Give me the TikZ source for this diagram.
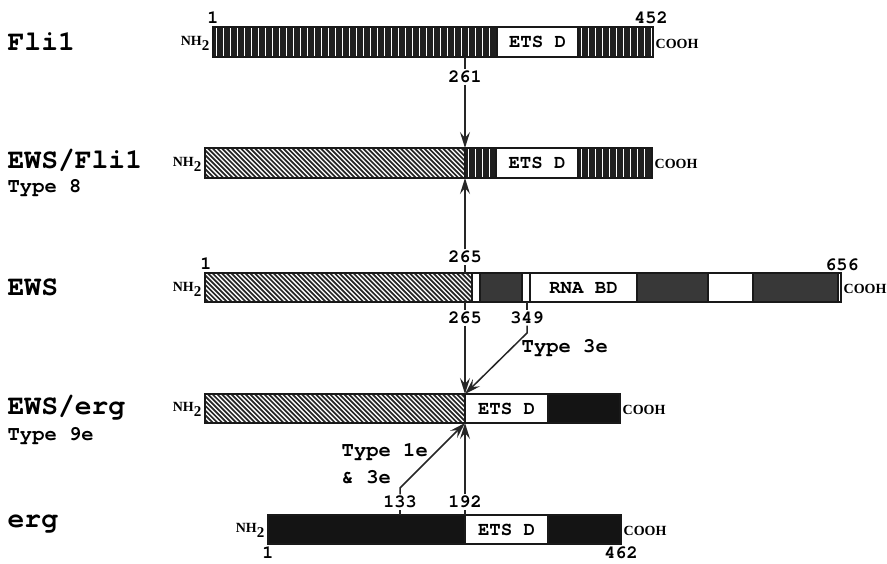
\documentclass[tikz,border=0pt]{standalone}
\usepackage{fontspec}
\newfontfamily\serifb{Liberation Serif}
\newfontfamily\cour{TeX Gyre Cursor}
\usetikzlibrary{arrows.meta}

\tikzset{
  every node/.style={inner sep=1.5pt},
  big/.style={font=\fontsize{28}{28}\cour\bfseries, anchor=west},
  sub/.style={font=\fontsize{20.5}{20.5}\cour\bfseries, anchor=west},
  num/.style={font=\fontsize{18.5}{18.5}\cour\bfseries},
  term/.style={font=\fontsize{14}{14}\serifb\bfseries},
  dom/.style={font=\fontsize{19}{19}\cour\bfseries},
  bar/.style={draw=black!90, line width=1.3pt},
  conn/.style={line width=1.5pt, black!85},
  arr/.style={conn, -{Stealth[length=16pt,width=10pt,inset=6pt]}},
}

\newcommand\vstr[4]{%
  \begin{scope}
    \clip (#1,#2) rectangle (#3,#4);
    \fill[black!88] (#1,#2) rectangle (#3,#4);
    \foreach \k in {0,...,60}{\draw[white,line width=1.3pt] (#1+3.5+\k*7,#2) -- (#1+3.5+\k*7,#4);}
  \end{scope}}
\newcommand\hatch[4]{%
  \begin{scope}
    \clip (#1,#2) rectangle (#3,#4);
    \fill[white] (#1,#2) rectangle (#3,#4);
    \foreach \k in {0,...,70}{\draw[black!85,line width=1.7pt] (#1-35+\k*4.7,#2) -- ++(35,35);}
  \end{scope}}
\newcommand\stip[4]{\fill[black!78] (#1,#2) rectangle (#3,#4);}
\newcommand\solid[4]{\fill[black!92] (#1,#2) rectangle (#3,#4);}
\newcommand\nh{NH\raisebox{-5pt}{\fontsize{15}{15}\selectfont 2}}

\begin{document}
\begin{tikzpicture}[x=1pt,y=-1pt]
\useasboundingbox[fill=white] (0,0) rectangle (887,563);

% ---------- Fli1 ----------
\vstr{213}{27}{497}{57}
\vstr{578}{27}{653}{57}
\draw[bar] (213,27) rectangle (653,57) (497,27) -- (497,57) (578,27) -- (578,57);
\node[dom] (fliets) at (537.5,42) {ETS D};
\node[term, anchor=east] (flinh) at (211,43) {\nh};
\node[term, anchor=west] (flicooh) at (654,44) {COOH};
\node[num] (fli1) at (213,18) {1};
\node[num] (fli452) at (651,18) {452};
\node[big] (lfli) at (6,42) {Fli1};
\coordinate (f261) at (465,57);

% ---------- EWS/Fli1 ----------
\hatch{205}{148}{465}{178}
\vstr{465}{148}{496}{178}
\vstr{578}{148}{652}{178}
\draw[bar] (205,148) rectangle (652,178) (465,148) -- (465,178) (496,148) -- (496,178) (578,148) -- (578,178);
\node[dom] (efets) at (537,163) {ETS D};
\node[term, anchor=east] (efnh) at (203,164) {\nh};
\node[term, anchor=west] (efcooh) at (653,164) {COOH};
\node[big] (lef) at (6,160) {EWS/Fli1};
\node[sub] (lef8) at (6,188) {Type 8};
\coordinate (efT) at (465,148);
\coordinate (efB) at (465,178);

% ---------- EWS ----------
\hatch{205}{273}{472}{302}
\stip{480}{273}{522}{302}
\stip{637}{273}{708}{302}
\stip{753}{273}{838}{302}
\draw[bar] (205,273) rectangle (841,302)
  (472,273) -- (472,302) (480,273) -- (480,302)
  (522,273) -- (522,302) (530,273) -- (530,302)
  (637,273) -- (637,302) (708,273) -- (708,302)
  (753,273) -- (753,302) (838,273) -- (838,302);
\node[dom] (rna) at (583.5,288) {RNA BD};
\node[term, anchor=east] (ewsnh) at (203,289) {\nh};
\node[term, anchor=west] (ewscooh) at (842,289) {COOH};
\node[num] (ews1) at (206,264) {1};
\node[num] (ews656) at (842,265) {656};
\node[big] (lews) at (6,287) {EWS};
\coordinate (eT) at (465,273);
\coordinate (eB) at (465,302);
\coordinate (e349) at (527,302);

% ---------- EWS/erg ----------
\hatch{205}{394}{465}{423}
\solid{548}{394}{620}{423}
\draw[bar] (205,394) rectangle (620,423) (465,394) -- (465,423) (548,394) -- (548,423);
\node[dom] (eeets) at (506.5,409) {ETS D};
\node[term, anchor=east] (eenh) at (203,409) {\nh};
\node[term, anchor=west] (eecooh) at (621,410) {COOH};
\node[big] (lee) at (6,408) {EWS/erg};
\node[sub] (lee9) at (6,436) {Type 9e};
\coordinate (eeT) at (465,394);
\coordinate (eeB) at (465,423);

% ---------- erg ----------
\solid{268}{515}{465}{544}
\solid{548}{515}{621}{544}
\draw[bar] (268,515) rectangle (621,544) (465,515) -- (465,544) (548,515) -- (548,544);
\node[dom] (ergets) at (506.5,530) {ETS D};
\node[term, anchor=east] (ergnh) at (266,530) {\nh};
\node[term, anchor=west] (ergcooh) at (622,531) {COOH};
\node[num] (erg1) at (268,553) {1};
\node[num] (erg462) at (621,553) {462};
\node[big] (lerg) at (6,524) {erg};
\coordinate (g133) at (400,515);
\coordinate (g192) at (465,515);

% ---------- connectors ----------
\node[num] (n261) at (465,77) {261};
\draw[conn] (f261) -- (n261.north);
\draw[arr] (n261.south) -- (efT);

\node[num] (n265a) at (465,257) {265};
\draw[conn] (eT) -- (n265a.south);
\draw[arr] (n265a.north) -- (efB);

\node[num] (n265b) at (465,318) {265};
\node[num] (n349) at (527,318) {349};
\coordinate (k349) at (527,333);
\draw[conn] (eB) -- (n265b.north);
\draw[arr] (n265b.south) -- (eeT);
\draw[conn] (e349) -- (n349.north);
\draw[arr] (n349.south) -- (k349) -- (eeT);
\node[sub] (t3e) at (520,348) {Type 3e};

\node[num] (n133) at (400,502) {133};
\node[num] (n192) at (465,502) {192};
\coordinate (k133) at (400,488);
\draw[conn] (g133) -- (n133.south);
\draw[arr] (n133.north) -- (k133) -- (eeB);
\draw[conn] (g192) -- (n192.south);
\draw[arr] (n192.north) -- (eeB);
\node[sub] (t1e) at (340,452) {Type 1e};
\node[sub] (t13e) at (340,477) {\& 3e};
\end{tikzpicture}
\end{document}
